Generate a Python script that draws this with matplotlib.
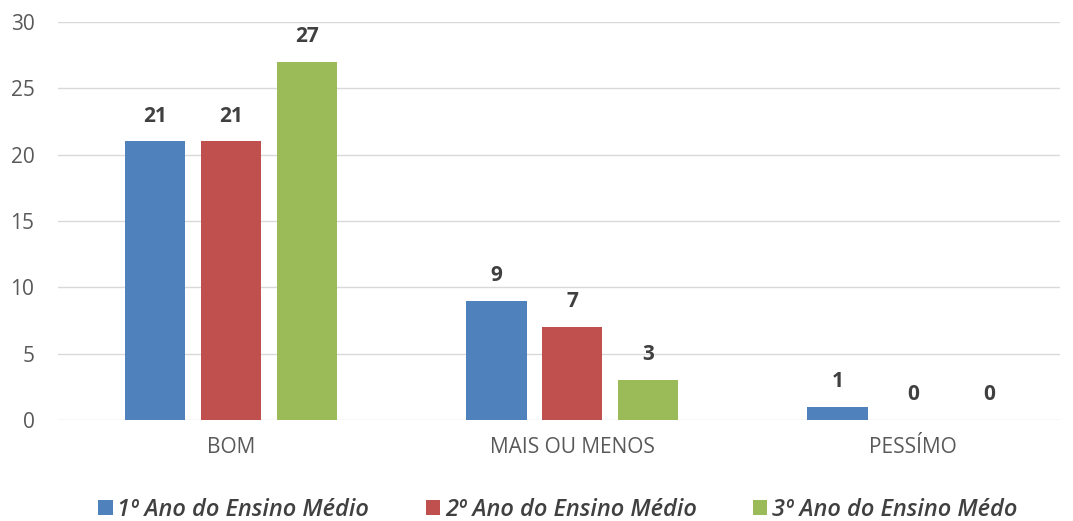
import numpy as np
import matplotlib.pyplot as plt

plt.rcParams['font.family'] = ['Open Sans', 'DejaVu Sans']

# Dados
categorias = ['BOM', 'MAIS OU MENOS', 'PESSÍMO']
series = ['1º Ano do Ensino Médio', '2º Ano do Ensino Médio', '3º Ano do Ensino Médo']
ano1 = [21, 9, 1]
ano2 = [21, 7, 0]
ano3 = [27, 3, 0]
cores = ['#4F81BD', '#C0504D', '#9BBB59']

fig = plt.figure(figsize=(10.73, 5.21), dpi=100)
ax = fig.add_axes([58 / 1073, 1 - 420 / 521, 1002 / 1073, 398 / 521])

x = np.arange(len(categorias))
largura = 0.178
passo = 0.2225
for i, (vals, cor, nome) in enumerate(zip([ano1, ano2, ano3], cores, series)):
    pos = x + (i - 1) * passo
    barras = ax.bar(pos, vals, largura, color=cor, label=nome, zorder=3)
    for b, v in zip(barras, vals):
        ax.text(b.get_x() + b.get_width() / 2, v + 1.9, str(v), ha='center', va='center',
                fontsize=15, fontweight='bold', color='#404040')

ax.set_xlim(-0.507, 2.43)
ax.set_ylim(0, 30)
ax.set_yticks(range(0, 31, 5))
ax.set_xticks(x)
ax.set_xticklabels(categorias)
ax.grid(axis='y', color='#d9d9d9', linewidth=1, zorder=0)
for s in ax.spines.values():
    s.set_visible(False)
ax.tick_params(length=0, labelsize=15, colors='#595959')
ax.tick_params(axis='y', pad=17)
ax.tick_params(axis='x', pad=12)

leg = fig.legend(loc='center', bbox_to_anchor=(0.520, 1 - 510 / 521), ncol=3, frameon=False,
                 handlelength=0.6, handleheight=0.6, handletextpad=0.2, columnspacing=2.4,
                 prop={'size': 17, 'style': 'italic', 'weight': 'semibold'})
for t in leg.get_texts():
    t.set_color('#404040')

fig.savefig('out.png', dpi=100)
